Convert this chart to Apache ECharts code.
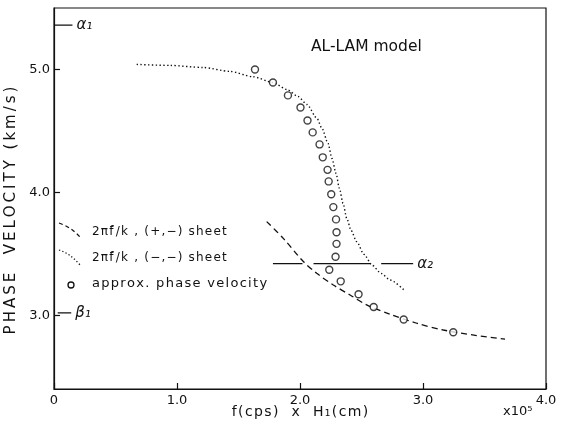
<!DOCTYPE html>
<html><head><meta charset="utf-8">
<script src="https://cdn.jsdelivr.net/npm/echarts@6/dist/echarts.min.js"></script>
<style>html,body{margin:0;padding:0;background:#fff}#c{width:565px;height:429px}</style>
</head><body><div id="c"></div><script>
// ---- data ----
const xTicks = [0, 1, 2, 3, 4];
const yTicks = [3, 4, 5];
// 2πf̄/k, (+,-) sheet  (dashed)
const sheetPlusMinus = [[1.729,3.762],[1.864,3.626],[2.027,3.437],[2.136,3.341],[2.271,3.246],[2.407,3.165],[2.542,3.084],[2.732,3.008],[2.949,2.935],[3.165,2.880],[3.437,2.835],[3.667,2.805]];
// 2πf̄/k, (-,-) sheet  (dotted)
const sheetMinusMinus = [[0.672,5.041],[0.943,5.033],[1.211,5.016],[1.431,4.984],[1.618,4.941],[1.780,4.894],[1.894,4.837],[1.984,4.780],[2.057,4.715],[2.138,4.602],[2.179,4.520],[2.228,4.398],[2.260,4.276],[2.293,4.154],[2.320,4.033],[2.350,3.911],[2.380,3.789],[2.415,3.691],[2.461,3.599],[2.520,3.496],[2.585,3.409],[2.659,3.341],[2.732,3.287],[2.854,3.198]];
// approx. phase velocity (circles)
const approxPhase = [[1.634,5.000],[1.780,4.894],[1.902,4.789],[2.004,4.691],[2.061,4.585],[2.103,4.488],[2.159,4.390],[2.185,4.285],[2.224,4.183],[2.233,4.089],[2.254,3.984],[2.271,3.880],[2.293,3.780],[2.297,3.675],[2.297,3.581],[2.289,3.476],[2.238,3.370],[2.331,3.276],[2.476,3.171],[2.599,3.067],[2.843,2.965],[3.246,2.862]];
// reference velocities
const alpha1 = 5.36, beta1 = 3.02, alpha2 = 3.42;
const alpha1Extent = [0, 0.15];
const beta1Extent = [0.03, 0.14];
const alpha2Segments = [[1.78, 2.02], [2.11, 2.57], [2.66, 2.92]];

const FONT = 'DejaVu Sans';
const black = '#111';
const spaced = (s, sp) => s.split('').join(sp);
const THIN = '\u2009', HAIR = '\u200A';

const refSeries = [];
function refLine(ext, v, label) {
  refSeries.push({
    type: 'line', data: [[ext[0], v], [ext[1], v]], symbol: 'none', silent: true,
    lineStyle: { color: black, width: 1.2 },
    endLabel: label ? { show: true, formatter: label, distance: 4, color: black, fontFamily: FONT, fontSize: 15, fontStyle: 'italic' } : { show: false },
    z: 1
  });
}
refLine(alpha1Extent, alpha1, 'α₁');
refLine(beta1Extent, beta1, 'β₁');
alpha2Segments.forEach((s, i) => refLine(s, alpha2, i === alpha2Segments.length - 1 ? 'α₂' : null));

const chart = echarts.init(document.getElementById('c'), null, { renderer: 'canvas' });
chart.setOption({
  animation: false,
  backgroundColor: '#fff',
  grid: { left: 54, right: 19, top: 8, bottom: 40, containLabel: false, outerBoundsMode: 'none',
          show: true, borderColor: black, borderWidth: 1.2 },
  xAxis: {
    type: 'value', min: 0, max: 4, interval: 1,
    name: spaced('f(cps)  x  H₁(cm)', HAIR), nameLocation: 'middle', nameGap: 16, nameMoveOverlap: false,
    nameTextStyle: { fontFamily: FONT, fontSize: 14, color: black },
    axisLine: { lineStyle: { color: black, width: 1.2 } },
    axisTick: { inside: true, length: 6, lineStyle: { color: black, width: 1.2 } },
    axisLabel: { margin: 5, fontFamily: FONT, fontSize: 13, color: black, formatter: v => v === 0 ? '0' : v.toFixed(1) },
    splitLine: { show: false }
  },
  yAxis: {
    type: 'value', min: 2.4, max: 5.5,
    name: spaced('PHASE  VELOCITY (km/s)', THIN), nameLocation: 'middle', nameGap: 26,
    nameTextStyle: { fontFamily: FONT, fontSize: 15, color: black, padding: [0, 24, 0, 0] },
    axisLine: { lineStyle: { color: black, width: 1.2 } },
    axisTick: { inside: true, length: 6, customValues: yTicks, lineStyle: { color: black, width: 1.2 } },
    axisLabel: { margin: 4, fontFamily: FONT, fontSize: 13, color: black, customValues: yTicks, formatter: v => v.toFixed(1) },
    splitLine: { show: false }
  },
  series: [
    ...refSeries,
    { name: '(+,-) sheet', type: 'line', data: sheetPlusMinus, smooth: 0.3, symbol: 'none',
      lineStyle: { color: black, width: 1.3, type: [6, 4] }, z: 2 },
    { name: '(-,-) sheet', type: 'line', data: sheetMinusMinus, smooth: 0.25, smoothMonotone: 'x', symbol: 'none',
      lineStyle: { color: black, width: 1.4, type: [1.4, 2.4] }, z: 2 },
    { name: 'approx. phase velocity', type: 'scatter', data: approxPhase, symbol: 'circle', symbolSize: 7,
      itemStyle: { color: '#fff', borderColor: black, borderWidth: 1.4 }, z: 3 }
  ],
  graphic: [
    { type: 'text', left: 311, top: 39, style: { text: 'AL-LAM model', font: '15.5px "DejaVu Sans"', fill: black } },
    { type: 'text', left: 503, top: 405, style: { text: 'x10⁵', font: '13px "DejaVu Sans"', fill: black } },
    { type: 'bezierCurve', shape: { x1: 59, y1: 223, cpx1: 71, cpy1: 227, x2: 80, y2: 237 }, style: { stroke: black, fill: null, lineWidth: 1.2, lineDash: [4, 3] } },
    { type: 'bezierCurve', shape: { x1: 59, y1: 250, cpx1: 71, cpy1: 254, x2: 80, y2: 265 }, style: { stroke: black, fill: null, lineWidth: 1.3, lineDash: [1.3, 2.2] } },
    { type: 'circle', shape: { cx: 71, cy: 285, r: 3 }, style: { stroke: black, fill: '#fff', lineWidth: 1.3 } },
    { type: 'text', left: 92, top: 226, style: { text: spaced('2πf\u0304/k , (+,−) sheet', HAIR), font: '12px "DejaVu Sans"', fill: black } },
    { type: 'text', left: 92, top: 252, style: { text: spaced('2πf\u0304/k , (−,−) sheet', HAIR), font: '12px "DejaVu Sans"', fill: black } },
    { type: 'text', left: 92, top: 277, style: { text: spaced('approx. phase velocity', HAIR), font: '13px "DejaVu Sans"', fill: black } }
  ]
});
</script></body></html>
